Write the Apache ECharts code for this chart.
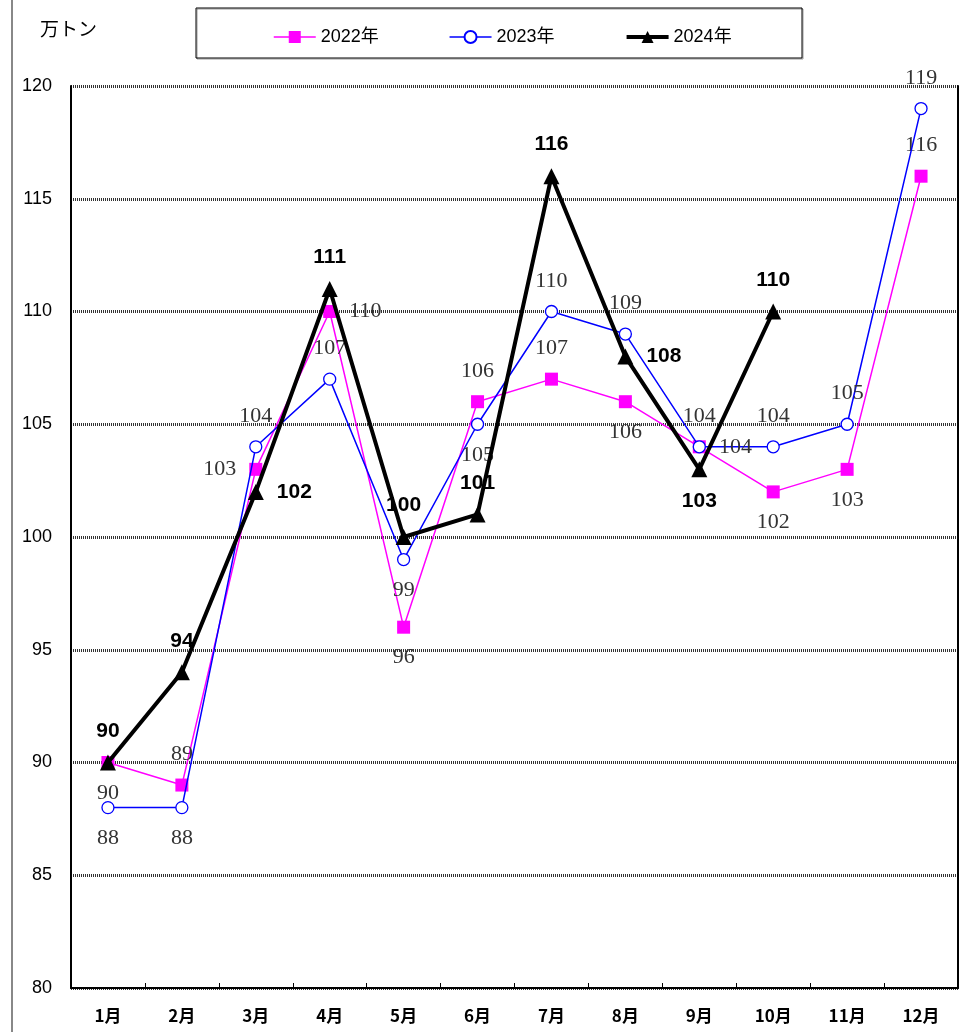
<!DOCTYPE html>
<html>
<head>
<meta charset="utf-8">
<script src="https://cdn.jsdelivr.net/npm/echarts@6/dist/echarts.min.js"></script>
<style>
html,body{margin:0;padding:0;background:#fff;}
#chart{width:960px;height:1032px;}
</style>
</head>
<body>
<div id="chart"></div>
<script>
const categories = ['1月','2月','3月','4月','5月','6月','7月','8月','9月','10月','11月','12月'];
const seriesNames = ['2022年','2023年','2024年'];
const v2022 = [90, 89, 103, 110, 96, 106, 107, 106, 104, 102, 103, 116];
const v2023 = [88, 88, 104, 107, 99, 105, 110, 109, 104, 104, 105, 119];
const v2024 = [90, 94, 102, 111, 100, 101, 116, 108, 103, 110];
const yMin = 80, yMax = 120, yStep = 5;
const unitLabel = '万トン';

// label placement (style only)
const pos2022 = ['bottom','top','left','right','bottom','top','top','bottom','top','bottom','bottom','top'];
const pos2023 = ['bottom','bottom','top','top','bottom','bottom','top','top','right','top','top','top'];
const pos2024 = ['top','top','right','top','top','top','top','right','bottom','top'];

function withLabels(vals, pos) {
  return vals.map((v, i) => ({ value: v, label: { position: pos[i] } }));
}

const serifLabel = {
  show: true, distance: 13, color: '#333',
  fontFamily: 'Liberation Serif', fontSize: 22
};
const boldLabel = {
  show: true, distance: 13, color: '#000',
  fontFamily: 'Liberation Sans', fontSize: 21, fontWeight: 'bold'
};

const chart = echarts.init(document.getElementById('chart'), null, {renderer: 'canvas'});
chart.setOption({
  animation: false,
  backgroundColor: '#fff',
  grid: { left: 71, right: 2, top: 86, bottom: 44, containLabel: false },
  legend: {
    left: 268, top: 23, itemGap: 70, itemWidth: 42, itemHeight: 15,
    textStyle: { fontFamily: 'Liberation Sans, Noto Sans CJK JP', fontSize: 18, color: '#000' },
    data: [
      { name: seriesNames[0], lineStyle: { width: 1.5 } },
      { name: seriesNames[1], lineStyle: { width: 1.5 } },
      { name: seriesNames[2], lineStyle: { width: 4 } }
    ]
  },
  graphic: [
    { type: 'rect', shape: { x: 196, y: 8, width: 606, height: 50 },
      style: { fill: 'none', stroke: '#000', lineWidth: 1, shadowColor: 'rgba(0,0,0,0.4)', shadowOffsetX: 1, shadowOffsetY: 1 }, z: -1 },
    { type: 'line', shape: { x1: 12, y1: 0, x2: 12, y2: 1032 },
      style: { stroke: '#888', lineWidth: 2 } },
    { type: 'text', left: 40, top: 19,
      style: { text: unitLabel, fontFamily: 'Noto Sans CJK JP', fontSize: 19, fontWeight: 'normal', fill: '#000' } }
  ],
  xAxis: {
    type: 'category', data: categories, boundaryGap: true,
    axisLine: { lineStyle: { color: '#000', width: 2 } },
    axisTick: { show: true, inside: true, length: 5, lineStyle: { color: '#000', width: 1 } },
    axisLabel: { margin: 19, color: '#000', fontFamily: 'Noto Sans CJK JP', fontSize: 17, fontWeight: 'bold' },
    splitLine: { show: false }
  },
  yAxis: [{
    type: 'value', min: yMin, max: yMax, interval: yStep,
    axisLine: { show: true, lineStyle: { color: '#000', width: 2 } },
    axisTick: { show: false },
    axisLabel: { margin: 19, color: '#000', fontFamily: 'Liberation Sans', fontSize: 18 },
    splitLine: { show: true, lineStyle: { color: '#333', width: 3, type: [1, 1] } }
  }, {
    type: 'value', min: yMin, max: yMax, interval: yStep, position: 'right',
    axisLine: { show: true, lineStyle: { color: '#000', width: 2 } },
    axisTick: { show: false }, axisLabel: { show: false }, splitLine: { show: false }
  }],
  series: [
    {
      name: seriesNames[0], type: 'line', data: withLabels(v2022, pos2022),
      symbol: 'rect', symbolSize: 13,
      itemStyle: { color: '#ff00ff' },
      lineStyle: { color: '#ff00ff', width: 1.5 },
      label: serifLabel, z: 2
    },
    {
      name: seriesNames[1], type: 'line', data: withLabels(v2023, pos2023),
      symbol: 'circle', symbolSize: 12,
      itemStyle: { color: '#fff', borderColor: '#0000ff', borderWidth: 1.3 },
      lineStyle: { color: '#0000ff', width: 1.5 },
      label: serifLabel, z: 3
    },
    {
      name: seriesNames[2], type: 'line', data: withLabels(v2024, pos2024),
      symbol: 'triangle', symbolSize: 16,
      itemStyle: { color: '#000' },
      lineStyle: { color: '#000', width: 4 },
      label: boldLabel, z: 4
    }
  ]
});
</script>
</body>
</html>
